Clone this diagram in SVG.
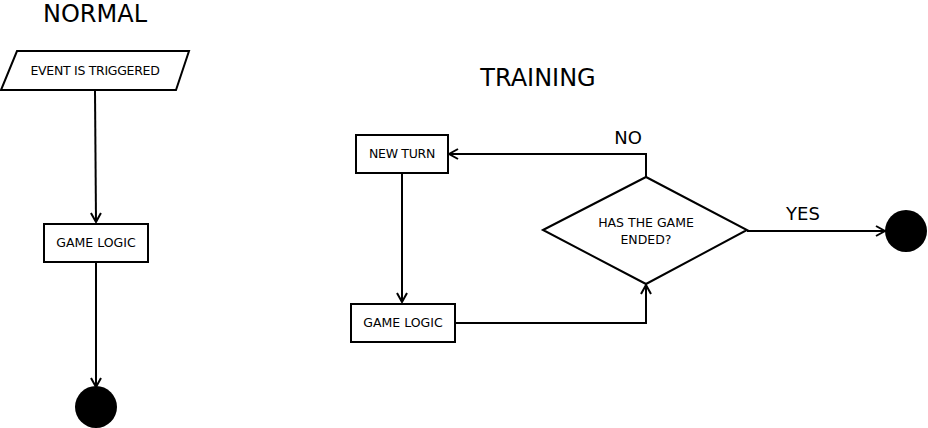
<svg xmlns="http://www.w3.org/2000/svg" width="928" height="428" viewBox="0 0 928 428">
<style>
.sh{fill:#fff;stroke:#000;stroke-width:2}
.ln{fill:none;stroke:#000;stroke-width:2}
.t{font-family:"DejaVu Sans",sans-serif;font-size:12.5px;text-anchor:middle;fill:#000}
.h{font-family:"DejaVu Sans",sans-serif;font-size:24px;text-anchor:middle;fill:#000}
.l{font-family:"DejaVu Sans",sans-serif;font-size:18px;text-anchor:middle;fill:#000}
</style>
<defs>
<marker id="a" markerWidth="12" markerHeight="12" refX="10" refY="6" orient="auto" markerUnits="userSpaceOnUse">
<polyline points="1,1 10,6 1,11" fill="none" stroke="#000" stroke-width="2"/>
</marker>
</defs>
<text class="h" x="95" y="22">NORMAL</text>
<text class="h" x="538" y="86">TRAINING</text>
<g id="connectors">
<line class="ln" x1="95" y1="91" x2="96" y2="222" marker-end="url(#a)"/>
<line class="ln" x1="96" y1="262" x2="96" y2="387" marker-end="url(#a)"/>
<line class="ln" x1="402" y1="173" x2="402" y2="302" marker-end="url(#a)"/>
<polyline class="ln" points="455,323 646,323 646,285" marker-end="url(#a)"/>
<polyline class="ln" points="646,177 646,154 449,154" marker-end="url(#a)"/>
<line class="ln" x1="747" y1="231" x2="885" y2="231" marker-end="url(#a)"/>
<text class="l" x="628" y="144">NO</text>
<text class="l" x="803" y="220">YES</text>
</g>
<g id="event">
<polygon class="sh" points="17,51 189,51 176,90 1,90"/>
<text class="t" x="95" y="75" letter-spacing="-0.3">EVENT IS TRIGGERED</text>
</g>
<g id="gamelogic1">
<rect class="sh" x="44" y="224" width="104" height="38"/>
<text class="t" x="96" y="247">GAME LOGIC</text>
</g>
<g id="end1">
<circle cx="96" cy="407" r="21" fill="#000"/>
</g>
<g id="newturn">
<rect class="sh" x="356" y="135" width="92" height="38"/>
<text class="t" x="402" y="158" letter-spacing="-0.3">NEW TURN</text>
</g>
<g id="gamelogic2">
<rect class="sh" x="351" y="304" width="104" height="38"/>
<text class="t" x="403" y="327">GAME LOGIC</text>
</g>
<g id="decision">
<polygon class="sh" points="543,230 646,177 747,230 646,284"/>
<text class="t" x="646" y="227">HAS THE GAME</text>
<text class="t" x="646" y="244">ENDED?</text>
</g>
<g id="end2">
<circle cx="906" cy="231" r="21" fill="#000"/>
</g>
</svg>
